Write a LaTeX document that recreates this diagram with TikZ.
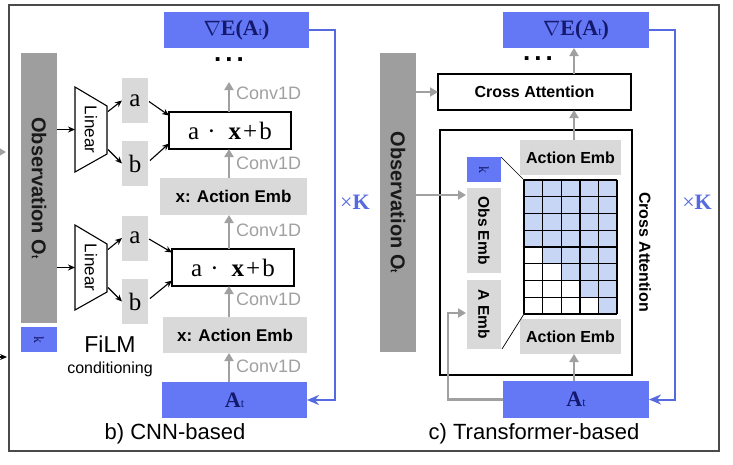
\documentclass[tikz,border=0pt]{standalone}
\usepackage{fontspec}
\setmainfont{Liberation Serif}
\setsansfont{Liberation Sans}
\usetikzlibrary{calc,arrows.meta}
\newcommand{\fsz}[1]{\fontsize{#1}{#1}\selectfont}
\definecolor{boxblue}{RGB}{100,120,245}
\definecolor{loopblue}{RGB}{85,105,225}
\definecolor{navy}{RGB}{20,25,110}
\definecolor{lgray}{RGB}{217,217,217}
\definecolor{obsgray}{RGB}{158,158,158}
\definecolor{agray}{RGB}{160,160,160}
\definecolor{framec}{RGB}{74,74,74}
\definecolor{cellblue}{RGB}{200,214,245}
\tikzset{
  bx/.style={inner sep=0pt, outer sep=0pt, anchor=center},
  bluebox/.style={bx, fill=boxblue, text=navy, font=\fsz{22}\bfseries},
  graybox/.style={bx, fill=lgray, font=\sffamily\bfseries\fsz{16}},
  obsbar/.style={bx, fill=obsgray},
  whitebox/.style={bx, draw=black, line width=1.4pt, fill=white},
  garrow/.style={draw=agray, line width=2.6pt, -{Triangle[length=8pt,width=9pt]}},
  barrow/.style={draw=black, line width=1.1pt, -{Stealth[length=7pt,width=6pt]}},
  looparrow/.style={draw=loopblue, line width=2pt, -{Stealth[length=12pt,width=10pt]}},
  convlbl/.style={anchor=west, text=agray, font=\sffamily\fsz{18}, inner sep=0pt},
  rottext/.style={rotate=-90, inner sep=0pt},
}
\begin{document}
\begin{tikzpicture}[x=1pt,y=-1pt]
\useasboundingbox (0,0) rectangle (733,464);
\fill[white] (0,0) rectangle (733,464);
% outer frame
\draw[framec, line width=2pt] (9,5) rectangle (719,451);
% cut-off arrows at the left edge
\coordinate (cutA) at (-12,152);
\coordinate (cutAe) at (6,152);
\coordinate (cutB) at (-12,357);
\coordinate (cutBe) at (7,357);
\draw[garrow] (cutA) -- (cutAe);
\draw[barrow] (cutB) -- (cutBe);

%%%%%%%%%%%%%%%% b) CNN-based
\node[obsbar, minimum width=36pt, minimum height=270pt] (obsL) at (39,188) {};
\node[rottext, font=\sffamily\bfseries\fsz{20}, text=black!90] at (obsL.center) {Observation O{\fsz{10}t}};
\node[bx, fill=boxblue, minimum width=36pt, minimum height=25pt] (kL) at (39,339.5) {};
\node[rottext, text=navy, font=\fsz{14}] at (kL.center) {k};

% Linear trapezoids
\foreach \n/\y in {1/129.5, 2/267.5} {
  \node[bx, minimum width=32pt, minimum height=85pt] (lin\n) at (91,\y) {};
  \draw[black, line width=1.1pt, fill=white] (lin\n.north west) -- ($(lin\n.north east)+(0,19)$) -- ($(lin\n.south east)+(0,-18)$) -- (lin\n.south west) -- cycle;
  \node[rottext, font=\sffamily\fsz{17}] at (lin\n.center) {Linear};
}
\node[bx, fill=lgray, minimum width=26pt, minimum height=45pt, font=\fsz{25}] (a1) at (135,100.5) {a};
\node[bx, fill=lgray, minimum width=26pt, minimum height=45pt, font=\fsz{25}] (b1) at (135,163.5) {b};
\node[bx, fill=lgray, minimum width=26pt, minimum height=45pt, font=\fsz{25}] (a2) at (135,238) {a};
\node[bx, fill=lgray, minimum width=26pt, minimum height=45pt, font=\fsz{25}] (b2) at (135,301.5) {b};

\node[whitebox, minimum width=122pt, minimum height=37pt, font=\fsz{25}] (f1) at (230,130.5) {a\hspace{8pt}·\hspace{13pt}\textbf{x}\hspace{2pt}+\hspace{2pt}b};
\node[whitebox, minimum width=122pt, minimum height=37pt, font=\fsz{25}] (f2) at (233,267.5) {a\hspace{8pt}·\hspace{13pt}\textbf{x}\hspace{2pt}+\hspace{2pt}b};

\node[bluebox, minimum width=145pt, minimum height=36pt] (gradL) at (236.5,30) {$\nabla$E(A{\fsz{12}\mdseries t})};
\node[graybox, minimum width=147pt, minimum height=37pt, font=\sffamily\bfseries\fsz{17}] (xae1) at (233.5,196.5) {x: Action Emb};
\node[graybox, minimum width=144pt, minimum height=36pt, font=\sffamily\bfseries\fsz{17}] (xae2) at (235,335) {x: Action Emb};
\node[bluebox, minimum width=145pt, minimum height=36pt] (AtL) at (234.5,400) {A{\fsz{12}\mdseries t}};

\node[font=\sffamily\bfseries\fsz{26}, inner sep=0pt] (dotsL) at (229,60) {.\hspace{4pt}.\hspace{4pt}.};

% black arrows
\foreach \n in {1,2} {
  \draw[barrow] (obsL.east |- lin\n.west) -- (lin\n.west);
  \draw[barrow] ($(lin\n.east)+(1,-18)$) -- (a\n.west);
  \draw[barrow] ($(lin\n.east)+(1,20)$) -- (b\n.west);
  \draw[barrow] ($(a\n.east)+(1,1)$) -- ($(f\n.west)+(0,-15)$);
  \draw[barrow] ($(b\n.east)+(2,-3)$) -- ($(f\n.west)+(0,13)$);
}
% Conv1D arrows
\coordinate (colL) at (229,0);
\coordinate (topL) at (229,82);
\draw[garrow] (f1.north -| colL) -- (topL);
\draw[garrow] (xae1.north -| colL) -- (f1.south -| colL);
\draw[garrow] (f2.north -| colL) -- (xae1.south -| colL);
\draw[garrow] (xae2.north -| colL) -- (f2.south -| colL);
\draw[garrow] (AtL.north -| colL) -- (xae2.south -| colL);
\node[convlbl] (c1) at (236,93) {Conv1D};
\node[convlbl] (c2) at (236,163) {Conv1D};
\node[convlbl] (c3) at (236,230) {Conv1D};
\node[convlbl] (c4) at (236,299) {Conv1D};
\node[convlbl] (c5) at (236,366) {Conv1D};

\node[font=\sffamily\fsz{23}, inner sep=0pt] (film) at (110,344) {FiLM};
\node[font=\sffamily\fsz{16}, inner sep=0pt] (cond) at (110,369) {conditioning};
\node[font=\sffamily\fsz{22}, inner sep=0pt] (capB) at (175,434) {b) CNN-based};

% loop
\draw[looparrow] (gradL.east) -- ++(26,0) |- (AtL.east);
\node[text=loopblue, font=\fsz{22}, inner sep=0pt] (kxL) at (355,202) {×\textbf{K}};

%%%%%%%%%%%%%%%% c) Transformer-based
\node[bluebox, minimum width=146pt, minimum height=36pt] (gradR) at (576,30) {$\nabla$E(A{\fsz{12}\mdseries t})};
\node[obsbar, minimum width=36pt, minimum height=299pt] (obsR) at (398,202.5) {};
\node[rottext, font=\sffamily\bfseries\fsz{20}, text=black!90] at (obsR.center) {Observation O{\fsz{10}t}};
\node[whitebox, minimum width=193pt, minimum height=36pt, font=\sffamily\bfseries\fsz{16}] (ca) at (534.5,92) {Cross Attention};
\node[whitebox, minimum width=192pt, minimum height=245pt] (big) at (536,252.5) {};
\node[graybox, minimum width=101pt, minimum height=35pt] (aeTop) at (570.5,157.5) {Action Emb};
\node[graybox, minimum width=101pt, minimum height=35pt] (aeBot) at (570.5,336.5) {Action Emb};
\node[bx, fill=boxblue, minimum width=34pt, minimum height=25pt] (kR) at (484,169.5) {};
\node[rottext, text=navy, font=\fsz{14}] at (kR.center) {k};
\node[graybox, minimum width=34pt, minimum height=85pt] (obsEmb) at (484,230.5) {};
\node[rottext, font=\sffamily\bfseries\fsz{15.5}] at (obsEmb.center) {Obs Emb};
\node[graybox, minimum width=34pt, minimum height=69pt] (aEmb) at (484,314.5) {};
\node[rottext, font=\sffamily\bfseries\fsz{15.5}] at (aEmb.center) {A Emb};
\node[bluebox, minimum width=146pt, minimum height=37pt] (AtR) at (576,399.5) {A{\fsz{12}\mdseries t}};

% attention grid
\node[bx, minimum width=93pt, minimum height=134pt] (grid) at (570.5,247) {};
\foreach \r in {0,...,7} {
  \foreach \c in {0,...,4} {
    \pgfmathtruncatemacro{\white}{(\r>=4) && (\c < \r-3) ? 1 : 0}
    \ifnum\white=0
      \fill[cellblue] (524+\c*18.6,180+\r*16.75) rectangle ++(18.6,16.75);
    \fi
  }
}
\foreach \c in {0,...,5} \draw[black, line width=1.4pt] (524+\c*18.6,180) -- (524+\c*18.6,314);
\foreach \r in {0,...,8} \draw[black, line width=1.4pt] (524,180+\r*16.75) -- (617,180+\r*16.75);
\draw[black, line width=0.7pt] (kR.north east) -- (grid.north west);
\draw[black, line width=0.7pt] ($(aEmb.south east)+(1,0)$) -- (grid.south west);

\node[rottext, font=\sffamily\bfseries\fsz{16}] (calbl) at (645,252) {Cross Attention};
\node[font=\sffamily\bfseries\fsz{26}, inner sep=0pt] (dotsR) at (538,59) {.\hspace{4pt}.\hspace{4pt}.};

% gray arrows right
\coordinate (colR) at (574,0);
\draw[garrow] (AtR.north -| colR) -- (aeBot.south -| colR);
\draw[garrow] (aeTop.north -| colR) -- (ca.south -| colR);
\draw[garrow] (ca.north -| colR) -- (gradR.south -| colR);
\draw[garrow] (obsR.east |- ca.west) -- (ca.west);
\coordinate (obsEmbIn) at ($(obsEmb.north west)+(-1,7)$);
\draw[garrow] (obsR.east |- obsEmbIn) -- (obsEmbIn);
\draw[garrow] (AtR.west) -- ++(-55,0) |- ($(aEmb.west)+(-1,-1.5)$);

\draw[looparrow] (gradR.east) -- ++(26,0) |- (AtR.east);
\node[text=loopblue, font=\fsz{22}, inner sep=0pt] (kxR) at (697,202) {×\textbf{K}};

\node[font=\sffamily\fsz{22}, inner sep=0pt] (capC) at (534,434) {c) Transformer-based};
\end{tikzpicture}
\end{document}
